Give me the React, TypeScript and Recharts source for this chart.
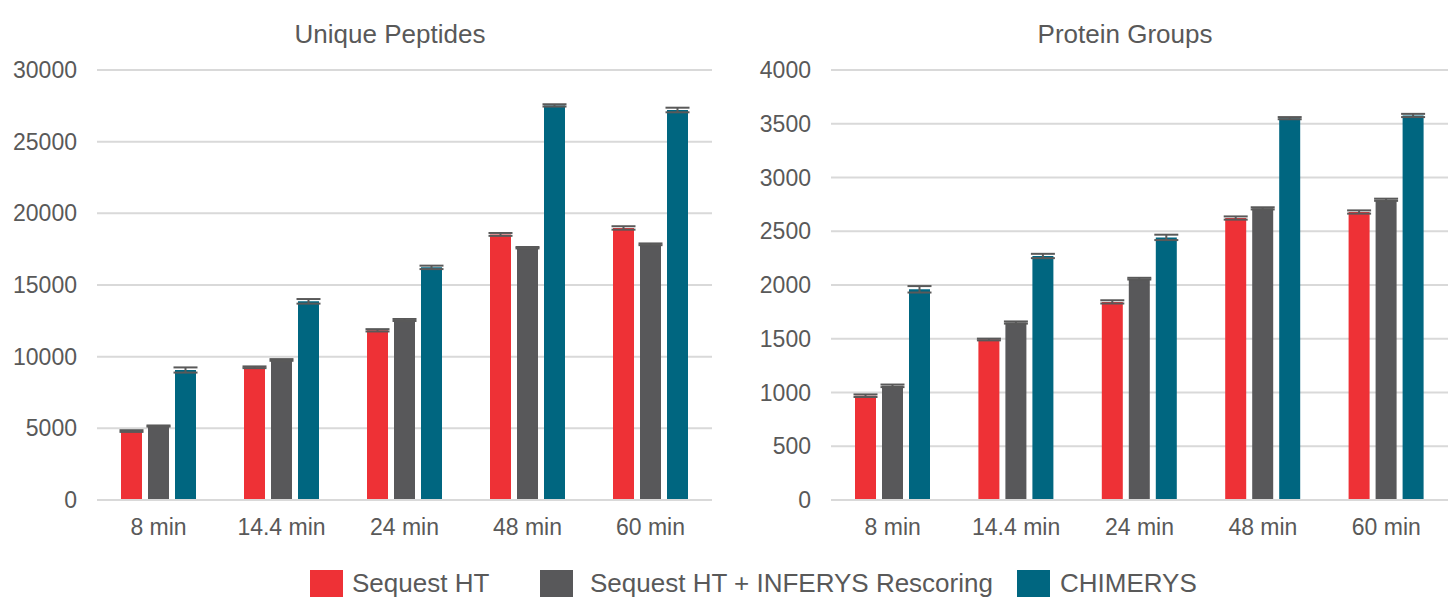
import React from 'react';
import { BarChart, Bar, XAxis, YAxis, CartesianGrid, ErrorBar } from 'recharts';

// time gradients on the x axis
const categories = ['8 min', '14.4 min', '24 min', '48 min', '60 min'];

// Unique peptides (left panel)
const peptidesSequest = [4810, 9260, 11840, 18530, 18980];
const peptidesInferys = [5160, 9770, 12560, 17600, 17840];
const peptidesChimerys = [9070, 13860, 16230, 27530, 27210];
const peptidesSequestErr = [60, 60, 80, 100, 120];
const peptidesInferysErr = [40, 60, 70, 50, 60];
const peptidesChimerysErr = [180, 160, 120, 80, 160];
const peptideTicks = [0, 5000, 10000, 15000, 20000, 25000, 30000];

// Protein groups (right panel)
const proteinsSequest = [970, 1493, 1843, 2623, 2679];
const proteinsInferys = [1062, 1651, 2059, 2713, 2793];
const proteinsChimerys = [1960, 2270, 2443, 3552, 3577];
const proteinsSequestErr = [12, 8, 15, 15, 15];
const proteinsInferysErr = [12, 10, 8, 10, 10];
const proteinsChimerysErr = [30, 20, 25, 10, 15];
const proteinTicks = [0, 500, 1000, 1500, 2000, 2500, 3000, 3500, 4000];

const seriesNames = ['Sequest HT', 'Sequest HT + INFERYS Rescoring', 'CHIMERYS'];
const colors = ['#EE3136', '#58585A', '#006680'];

const FONT = '"Liberation Sans", Arial, sans-serif';
const TEXT = '#595959';

const buildRows = (a, b, c, ea, eb, ec) =>
    categories.map((name, i) => ({
        name,
        sequest: a[i],
        inferys: b[i],
        chimerys: c[i],
        sequestErr: ea[i],
        inferysErr: eb[i],
        chimerysErr: ec[i],
    }));

const peptideRows = buildRows(
    peptidesSequest, peptidesInferys, peptidesChimerys,
    peptidesSequestErr, peptidesInferysErr, peptidesChimerysErr
);
const proteinRows = buildRows(
    proteinsSequest, proteinsInferys, proteinsChimerys,
    proteinsSequestErr, proteinsInferysErr, proteinsChimerysErr
);

const keys = ['sequest', 'inferys', 'chimerys'];

const Panel = ({ data, ticks, width, yWidth, marginRight }) => (
    <BarChart
        width={width}
        height={550}
        data={data}
        margin={{ top: 70, right: marginRight, bottom: 0, left: 0 }}
        barCategoryGap={24}
        barGap={6}
    >
        <CartesianGrid vertical={false} stroke="#D9D9D9" strokeWidth={2} />
        <XAxis
            dataKey="name"
            height={50}
            tickLine={false}
            tickSize={0}
            tickMargin={19}
            axisLine={{ stroke: '#D9D9D9', strokeWidth: 2 }}
            tick={{ fill: TEXT, fontSize: 23, fontFamily: FONT }}
        />
        <YAxis
            width={yWidth}
            domain={[0, ticks[ticks.length - 1]]}
            ticks={ticks}
            interval={0}
            axisLine={false}
            tickLine={false}
            tickSize={0}
            tickMargin={20}
            tick={{ fill: TEXT, fontSize: 23, fontFamily: FONT }}
        />
        {keys.map((k, i) => (
            <Bar key={k} dataKey={k} name={seriesNames[i]} fill={colors[i]} isAnimationActive={false}>
                <ErrorBar dataKey={k + 'Err'} width={12} stroke="#595959" strokeWidth={2} />
            </Bar>
        ))}
    </BarChart>
);

const legendPos = [
    { box: 310, text: 352 },
    { box: 540, text: 590 },
    { box: 1017, text: 1060 },
];

export default function App() {
    return (
        <div
            style={{
                position: 'absolute',
                left: 0,
                top: 0,
                width: 1453,
                height: 597,
                overflow: 'hidden',
                background: '#fff',
                fontFamily: FONT,
            }}
        >
            <div style={{ position: 'absolute', left: 0, top: 0 }}>
                <Panel data={peptideRows} ticks={peptideTicks} width={720} yWidth={97} marginRight={8} />
            </div>
            <div style={{ position: 'absolute', left: 740, top: 0 }}>
                <Panel data={proteinRows} ticks={proteinTicks} width={713} yWidth={91} marginRight={5} />
            </div>

            {/* panel titles */}
            <div style={{ position: 'absolute', left: 240, width: 300, top: 19, textAlign: 'center', fontSize: 26, color: TEXT }}>
                Unique Peptides
            </div>
            <div style={{ position: 'absolute', left: 975, width: 300, top: 19, textAlign: 'center', fontSize: 26, color: TEXT }}>
                Protein Groups
            </div>

            {/* legend */}
            {seriesNames.map((n, i) => (
                <React.Fragment key={n}>
                    <div
                        style={{
                            position: 'absolute',
                            left: legendPos[i].box,
                            top: 570,
                            width: 33,
                            height: 33,
                            background: colors[i],
                        }}
                    />
                    <div
                        style={{
                            position: 'absolute',
                            left: legendPos[i].text,
                            top: 568,
                            fontSize: 26,
                            color: TEXT,
                            whiteSpace: 'nowrap',
                        }}
                    >
                        {n}
                    </div>
                </React.Fragment>
            ))}
        </div>
    );
}
